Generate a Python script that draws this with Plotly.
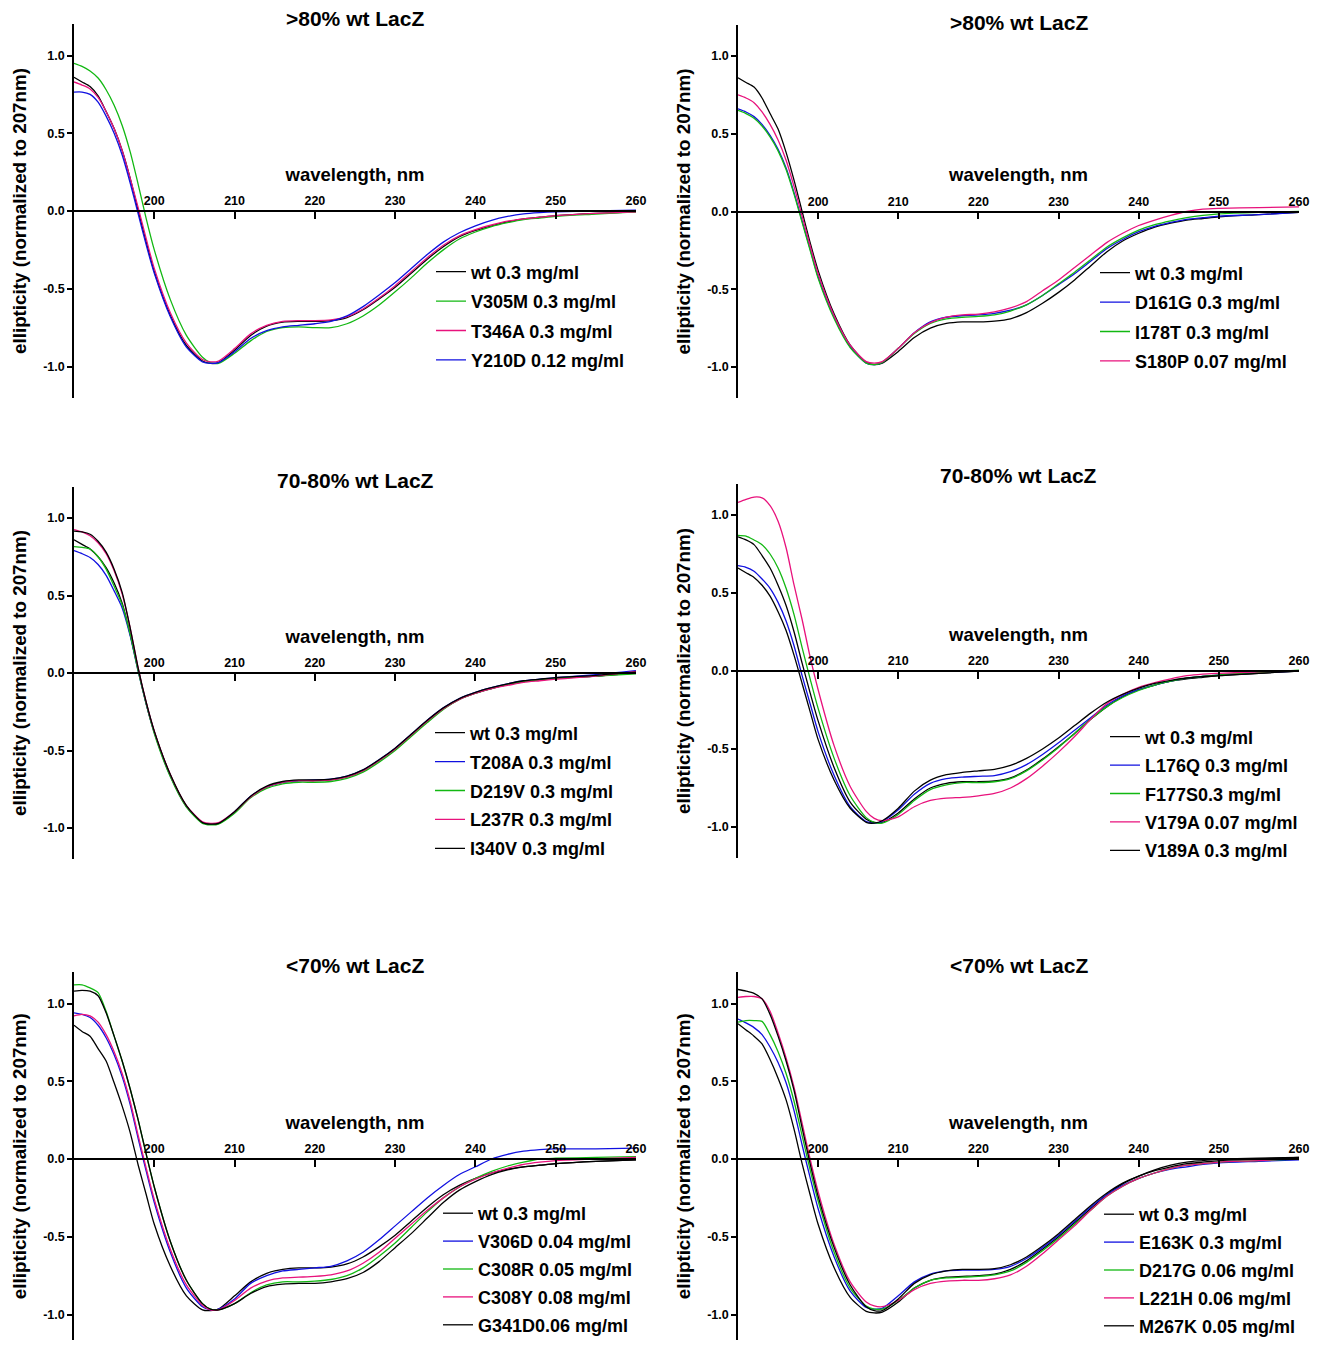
import plotly.graph_objects as go

# ---------------- data ----------------
wavelength = [190,191,192,193,194,195,196,197,198,199,200,202,204,206,207,208,
              210,212,214,216,218,220,222,224,226,228,230,232,234,236,238,240,242,244,246,248,
              250,255,260]

# Panel A: >80% wt LacZ (left)
A_wt    = [0.86,0.83,0.80,0.74,0.64,0.53,0.39,0.21,0.0,-0.2,-0.39, -0.67,-0.865,-0.965, -0.98,-0.975,
           -0.895,-0.80,-0.74,-0.715,-0.71,-0.71,-0.705,-0.685,-0.635,-0.565,-0.49,-0.40,-0.31,-0.23,-0.165,-0.125,-0.095,-0.07,-0.05,-0.04,
           -0.03,-0.015,-0.005]
A_V305M = [0.95,0.93,0.90,0.855,0.78,0.68,0.55,0.38,0.17,-0.05,-0.25, -0.57,-0.80,-0.94, -0.975,-0.98,
           -0.915,-0.835,-0.775,-0.75,-0.745,-0.75,-0.75,-0.725,-0.675,-0.605,-0.52,-0.43,-0.335,-0.25,-0.18,-0.135,-0.10,-0.075,-0.055,-0.045,
           -0.035,-0.02,-0.005]
A_T346A = [0.83,0.81,0.785,0.73,0.64,0.53,0.39,0.21,0.02,-0.18,-0.37, -0.655,-0.85,-0.955, -0.97,-0.965,
           -0.885,-0.79,-0.735,-0.71,-0.705,-0.705,-0.70,-0.68,-0.63,-0.56,-0.48,-0.39,-0.30,-0.22,-0.16,-0.12,-0.09,-0.065,-0.05,-0.04,
           -0.03,-0.015,-0.005]
A_Y210D = [0.765,0.765,0.75,0.70,0.61,0.50,0.36,0.18,-0.02,-0.22,-0.40, -0.68,-0.875,-0.97, -0.98,-0.975,
           -0.905,-0.82,-0.77,-0.745,-0.735,-0.725,-0.71,-0.675,-0.615,-0.54,-0.46,-0.37,-0.28,-0.20,-0.14,-0.095,-0.06,-0.035,-0.018,-0.01,
           -0.005,0.0,0.005]

# Panel B: >80% wt LacZ (right)
B_wt    = [0.86,0.83,0.80,0.73,0.63,0.53,0.38,0.20,0.0,-0.2,-0.38, -0.66,-0.86,-0.97, -0.985,-0.975,
           -0.90,-0.81,-0.75,-0.72,-0.71,-0.71,-0.705,-0.69,-0.65,-0.59,-0.52,-0.44,-0.35,-0.26,-0.19,-0.14,-0.10,-0.075,-0.055,-0.045,
           -0.035,-0.02,-0.005]
B_D161G = [0.66,0.64,0.61,0.56,0.49,0.40,0.28,0.12,-0.06,-0.24,-0.42, -0.68,-0.87,-0.975, -0.985,-0.97,
           -0.88,-0.78,-0.71,-0.68,-0.67,-0.665,-0.655,-0.635,-0.60,-0.54,-0.47,-0.40,-0.32,-0.24,-0.18,-0.13,-0.095,-0.07,-0.05,-0.04,
           -0.03,-0.02,-0.005]
B_I178T = [0.65,0.63,0.60,0.55,0.48,0.39,0.27,0.11,-0.07,-0.25,-0.43, -0.69,-0.875,-0.975, -0.985,-0.97,
           -0.88,-0.785,-0.72,-0.69,-0.68,-0.675,-0.665,-0.64,-0.60,-0.54,-0.465,-0.39,-0.31,-0.23,-0.17,-0.12,-0.085,-0.06,-0.04,-0.025,
           -0.015,-0.005,0.0]
B_S180P = [0.75,0.73,0.70,0.64,0.56,0.46,0.33,0.16,-0.03,-0.22,-0.40, -0.67,-0.86,-0.965, -0.975,-0.965,
           -0.88,-0.78,-0.715,-0.68,-0.665,-0.66,-0.645,-0.62,-0.58,-0.51,-0.44,-0.36,-0.28,-0.20,-0.14,-0.09,-0.055,-0.025,0.0,0.015,
           0.02,0.025,0.03]

# Panel C: 70-80% wt LacZ (left)
C_wt    = [0.86,0.83,0.80,0.75,0.68,0.58,0.45,0.25,0.02,-0.2,-0.38, -0.66,-0.86,-0.965, -0.975,-0.97,
           -0.90,-0.80,-0.735,-0.705,-0.695,-0.695,-0.69,-0.67,-0.63,-0.565,-0.49,-0.40,-0.31,-0.23,-0.17,-0.13,-0.10,-0.075,-0.055,-0.045,
           -0.035,-0.02,0.0]
C_T208A = [0.79,0.77,0.745,0.70,0.63,0.53,0.42,0.24,0.01,-0.2,-0.385, -0.665,-0.86,-0.965, -0.975,-0.97,
           -0.895,-0.795,-0.735,-0.705,-0.695,-0.69,-0.685,-0.665,-0.625,-0.56,-0.485,-0.395,-0.305,-0.225,-0.165,-0.125,-0.095,-0.07,-0.05,-0.04,
           -0.03,-0.01,0.015]
C_D219V = [0.815,0.81,0.80,0.75,0.67,0.56,0.44,0.25,0.01,-0.2,-0.39, -0.67,-0.865,-0.97, -0.98,-0.975,
           -0.905,-0.805,-0.745,-0.715,-0.705,-0.705,-0.70,-0.68,-0.64,-0.575,-0.50,-0.41,-0.32,-0.235,-0.17,-0.13,-0.10,-0.075,-0.055,-0.045,
           -0.035,-0.02,-0.005]
C_L237R = [0.925,0.91,0.885,0.84,0.77,0.66,0.51,0.29,0.03,-0.19,-0.375, -0.655,-0.855,-0.96, -0.97,-0.965,
           -0.895,-0.80,-0.735,-0.705,-0.695,-0.695,-0.69,-0.67,-0.63,-0.565,-0.49,-0.40,-0.31,-0.23,-0.17,-0.13,-0.10,-0.08,-0.06,-0.05,
           -0.04,-0.02,0.01]
C_I340V = [0.915,0.91,0.895,0.85,0.78,0.67,0.52,0.29,0.03,-0.19,-0.375, -0.655,-0.855,-0.965, -0.975,-0.97,
           -0.895,-0.795,-0.73,-0.70,-0.69,-0.69,-0.685,-0.665,-0.625,-0.56,-0.485,-0.395,-0.305,-0.225,-0.165,-0.125,-0.095,-0.07,-0.05,-0.04,
           -0.03,-0.015,0.005]

# Panel D: 70-80% wt LacZ (right)
D_wt    = [0.86,0.84,0.81,0.74,0.66,0.55,0.42,0.25,0.05,-0.14,-0.32, -0.62,-0.84,-0.95, -0.97,-0.97,
           -0.91,-0.82,-0.75,-0.72,-0.71,-0.71,-0.705,-0.685,-0.635,-0.565,-0.485,-0.40,-0.31,-0.23,-0.165,-0.12,-0.09,-0.065,-0.05,-0.04,
           -0.03,-0.015,0.0]
D_L176Q = [0.675,0.665,0.64,0.59,0.53,0.44,0.32,0.16,-0.03,-0.21,-0.39, -0.67,-0.87,-0.965, -0.975,-0.965,
           -0.89,-0.79,-0.72,-0.69,-0.68,-0.675,-0.67,-0.645,-0.60,-0.535,-0.46,-0.38,-0.30,-0.22,-0.16,-0.12,-0.09,-0.065,-0.045,-0.035,
           -0.025,-0.01,0.0]
D_F177S = [0.87,0.865,0.84,0.81,0.75,0.66,0.53,0.36,0.15,-0.05,-0.24, -0.56,-0.80,-0.94, -0.97,-0.975,
           -0.92,-0.83,-0.76,-0.73,-0.715,-0.715,-0.71,-0.69,-0.64,-0.57,-0.49,-0.40,-0.31,-0.23,-0.17,-0.125,-0.09,-0.065,-0.045,-0.035,
           -0.025,-0.01,0.005]
D_V179A = [1.08,1.10,1.115,1.11,1.06,0.96,0.79,0.55,0.33,0.09,-0.12, -0.48,-0.74,-0.90, -0.945,-0.96,
           -0.935,-0.87,-0.83,-0.815,-0.81,-0.80,-0.785,-0.75,-0.69,-0.61,-0.52,-0.42,-0.31,-0.21,-0.15,-0.105,-0.075,-0.05,-0.03,-0.02,
           -0.015,-0.005,0.0]
D_V189A = [0.66,0.63,0.60,0.55,0.48,0.38,0.26,0.10,-0.08,-0.26,-0.44, -0.70,-0.88,-0.97, -0.975,-0.96,
           -0.88,-0.77,-0.70,-0.665,-0.65,-0.64,-0.63,-0.605,-0.56,-0.50,-0.43,-0.35,-0.27,-0.20,-0.15,-0.11,-0.08,-0.06,-0.045,-0.035,
           -0.03,-0.015,0.0]

# Panel E: <70% wt LacZ (left)
E_wt    = [0.86,0.82,0.79,0.71,0.63,0.49,0.34,0.17,-0.04,-0.23,-0.42, -0.69,-0.88,-0.97, -0.975,-0.965,
           -0.88,-0.79,-0.735,-0.71,-0.70,-0.70,-0.695,-0.675,-0.63,-0.565,-0.49,-0.40,-0.31,-0.23,-0.17,-0.125,-0.09,-0.065,-0.05,-0.04,
           -0.03,-0.015,-0.005]
E_V306D = [0.94,0.93,0.91,0.86,0.78,0.67,0.53,0.35,0.13,-0.08,-0.28, -0.60,-0.83,-0.95, -0.97,-0.965,
           -0.90,-0.80,-0.75,-0.72,-0.71,-0.70,-0.69,-0.655,-0.60,-0.52,-0.43,-0.34,-0.25,-0.17,-0.10,-0.05,0.0,0.03,0.05,0.06,
           0.065,0.065,0.07]
E_C308R = [1.12,1.12,1.10,1.07,0.95,0.79,0.63,0.45,0.25,0.03,-0.18, -0.53,-0.78,-0.93, -0.965,-0.97,
           -0.93,-0.86,-0.81,-0.79,-0.79,-0.785,-0.775,-0.75,-0.70,-0.625,-0.54,-0.44,-0.34,-0.25,-0.18,-0.125,-0.08,-0.045,-0.02,0.0,
           0.005,0.01,0.015]
E_C308Y = [0.92,0.93,0.92,0.88,0.80,0.69,0.55,0.37,0.15,-0.06,-0.26, -0.58,-0.81,-0.94, -0.97,-0.97,
           -0.91,-0.83,-0.785,-0.765,-0.76,-0.755,-0.745,-0.72,-0.67,-0.60,-0.51,-0.42,-0.33,-0.25,-0.18,-0.13,-0.09,-0.06,-0.035,-0.02,
           -0.01,0.0,0.01]
E_G341D = [1.08,1.085,1.08,1.05,0.94,0.79,0.63,0.45,0.25,0.03,-0.18, -0.53,-0.78,-0.93, -0.965,-0.97,
           -0.93,-0.865,-0.82,-0.805,-0.80,-0.80,-0.79,-0.77,-0.73,-0.66,-0.57,-0.48,-0.38,-0.28,-0.20,-0.145,-0.10,-0.07,-0.05,-0.04,
           -0.03,-0.015,-0.005]

# Panel F: <70% wt LacZ (right)
F_wt    = [0.87,0.83,0.79,0.74,0.64,0.52,0.38,0.19,-0.03,-0.23,-0.42, -0.70,-0.89,-0.98, -0.99,-0.985,
           -0.92,-0.83,-0.78,-0.76,-0.755,-0.75,-0.74,-0.71,-0.655,-0.58,-0.50,-0.41,-0.32,-0.23,-0.16,-0.11,-0.07,-0.04,-0.02,-0.01,
           0.0,0.005,0.01]
F_E163K = [0.90,0.875,0.845,0.80,0.72,0.62,0.49,0.31,0.09,-0.12,-0.32, -0.63,-0.85,-0.955, -0.965,-0.96,
           -0.88,-0.79,-0.74,-0.72,-0.715,-0.715,-0.71,-0.69,-0.64,-0.57,-0.49,-0.40,-0.31,-0.23,-0.17,-0.125,-0.09,-0.065,-0.05,-0.035,
           -0.025,-0.015,-0.005]
F_D217G = [0.88,0.89,0.89,0.885,0.80,0.69,0.55,0.37,0.15,-0.07,-0.27, -0.60,-0.83,-0.945, -0.965,-0.965,
           -0.91,-0.83,-0.78,-0.765,-0.76,-0.755,-0.745,-0.72,-0.665,-0.59,-0.51,-0.42,-0.33,-0.24,-0.175,-0.125,-0.09,-0.06,-0.04,-0.03,
           -0.02,-0.01,0.0]
F_L221H = [1.04,1.045,1.045,1.03,0.95,0.81,0.65,0.46,0.23,0.0,-0.21, -0.55,-0.79,-0.92, -0.945,-0.95,
           -0.91,-0.84,-0.80,-0.785,-0.78,-0.78,-0.77,-0.745,-0.69,-0.61,-0.52,-0.43,-0.33,-0.24,-0.175,-0.125,-0.09,-0.06,-0.04,-0.03,
           -0.02,-0.01,0.005]
F_M267K = [1.09,1.08,1.065,1.03,0.93,0.79,0.63,0.44,0.20,-0.03,-0.24, -0.57,-0.81,-0.95, -0.975,-0.975,
           -0.90,-0.80,-0.745,-0.72,-0.71,-0.71,-0.705,-0.68,-0.63,-0.56,-0.48,-0.39,-0.30,-0.22,-0.155,-0.11,-0.075,-0.05,-0.03,-0.02,
           -0.01,0.0,0.01]

panel_titles = [">80% wt LacZ", ">80% wt LacZ", "70-80% wt LacZ", "70-80% wt LacZ", "<70% wt LacZ", "<70% wt LacZ"]
x_ticks = [200, 210, 220, 230, 240, 250, 260]
y_ticks = [-1.0, -0.5, 0.0, 0.5, 1.0]
y_ticktext = ["-1.0", "-0.5", "0.0", "0.5", "1.0"]

BLACK, GREEN, PINK, BLUE = "#000000", "#12b812", "#e8127c", "#1010e0"

panels = [
    [("wt 0.3 mg/ml", A_wt, BLACK), ("V305M 0.3 mg/ml", A_V305M, GREEN),
     ("T346A 0.3 mg/ml", A_T346A, PINK), ("Y210D 0.12 mg/ml", A_Y210D, BLUE)],
    [("wt 0.3 mg/ml", B_wt, BLACK), ("D161G 0.3 mg/ml", B_D161G, BLUE),
     ("I178T 0.3 mg/ml", B_I178T, GREEN), ("S180P 0.07 mg/ml", B_S180P, PINK)],
    [("wt 0.3 mg/ml", C_wt, BLACK), ("T208A 0.3 mg/ml", C_T208A, BLUE),
     ("D219V 0.3 mg/ml", C_D219V, GREEN), ("L237R 0.3 mg/ml", C_L237R, PINK),
     ("I340V 0.3 mg/ml", C_I340V, BLACK)],
    [("wt 0.3 mg/ml", D_wt, BLACK), ("L176Q 0.3 mg/ml", D_L176Q, BLUE),
     ("F177S0.3 mg/ml", D_F177S, GREEN), ("V179A 0.07 mg/ml", D_V179A, PINK),
     ("V189A 0.3 mg/ml", D_V189A, BLACK)],
    [("wt 0.3 mg/ml", E_wt, BLACK), ("V306D 0.04 mg/ml", E_V306D, BLUE),
     ("C308R 0.05 mg/ml", E_C308R, GREEN), ("C308Y 0.08 mg/ml", E_C308Y, PINK),
     ("G341D0.06 mg/ml", E_G341D, BLACK)],
    [("wt 0.3 mg/ml", F_wt, BLACK), ("E163K 0.3 mg/ml", F_E163K, BLUE),
     ("D217G 0.06 mg/ml", F_D217G, GREEN), ("L221H 0.06 mg/ml", F_L221H, PINK),
     ("M267K 0.05 mg/ml", F_M267K, BLACK)],
]

# ---------------- layout geometry (page pixels -> paper) ----------------
PAGE_W, PAGE_H = 1327, 1348
BODY = 8                      # default html body margin
W, H = PAGE_W - 2 * BODY, PAGE_H - 2 * BODY


def px2x(px):
    return (px - BODY) / W


def px2y(py):
    return 1 - (py - BODY) / H


xdom_px = [(74, 636), (738, 1299)]
zero_px = [211, 211.5, 673, 671, 1159, 1159]
unit_px = [155.5, 155.5, 155, 156, 155.5, 155.5]
title_px = [19, 22, 480, 476, 965, 965]
legend_px = [(431, 253.5), (1095, 254.5), (430, 714.5), (1105, 718.5), (438, 1195), (1099, 1196)]
legend_gap = [3, 3, 2.5, 2, 1.5, 1.5]

FONT = "Liberation Sans, Arial, Helvetica, sans-serif"

fig = go.Figure()
layout = dict(
    width=W, height=H, margin=dict(l=0, r=0, t=0, b=0, pad=0, autoexpand=False),
    paper_bgcolor="white", plot_bgcolor="white", showlegend=True,
    font=dict(family=FONT, color="black"),
)
annotations = []

for i, series in enumerate(panels):
    k = i + 1
    col = i % 2
    x0, x1 = xdom_px[col]
    z, u = zero_px[i], unit_px[i]
    top_px = z - 1.2 * u
    bot_px = min(z + 1.2 * u, PAGE_H - BODY)
    ymin = -(bot_px - z) / u
    xd = [px2x(x0), px2x(x1)]
    yd = [px2y(bot_px), px2y(top_px)]
    xa = "xaxis" if k == 1 else f"xaxis{k}"
    ya = "yaxis" if k == 1 else f"yaxis{k}"
    xref = "x" if k == 1 else f"x{k}"
    yref = "y" if k == 1 else f"y{k}"
    lg = "legend" if k == 1 else f"legend{k}"

    for j, (name, vals, color) in enumerate(series):
        fig.add_trace(go.Scatter(
            x=wavelength, y=vals, mode="lines", name=name,
            line=dict(color=color, width=1.3, shape="spline", smoothing=0.7),
            xaxis=xref, yaxis=yref, legend=lg, legendgroup=f"p{k}_{j}",
            hoverinfo="skip",
        ))

    layout[xa] = dict(
        domain=xd, range=[190, 260], anchor="free", position=px2y(z),
        side="top", ticks="inside", ticklen=7, tickwidth=1.5, tickcolor="black",
        showline=True, linecolor="black", linewidth=1.5, showgrid=False, zeroline=False,
        tickvals=x_ticks, tickfont=dict(size=12.5, family=FONT, weight="bold"),
        title=dict(text="wavelength, nm", font=dict(size=18.5, family=FONT, weight="bold"), standoff=7),
        automargin=False, fixedrange=True,
    )
    layout[ya] = dict(
        domain=yd, range=[ymin, 1.2], anchor=xref,
        ticks="outside", ticklen=5, tickwidth=1.5, tickcolor="black",
        showline=True, linecolor="black", linewidth=1.5, showgrid=False, zeroline=False,
        tickvals=y_ticks, ticktext=y_ticktext, tickfont=dict(size=12.5, family=FONT, weight="bold"),
        title=dict(text="ellipticity (normalized to 207nm)", font=dict(size=18.8, family=FONT, weight="bold"), standoff=12),
        automargin=False, fixedrange=True,
    )
    lx, ly = legend_px[i]
    layout[lg] = dict(
        x=px2x(lx), y=px2y(ly), xanchor="left", yanchor="top",
        bgcolor="rgba(0,0,0,0)", borderwidth=0, traceorder="grouped", tracegroupgap=legend_gap[i],
        font=dict(size=18, family=FONT, weight="bold", color="black"),
    )
    annotations.append(dict(
        text=panel_titles[i], xref="paper", yref="paper",
        x=(xd[0] + xd[1]) / 2, y=px2y(title_px[i]), xanchor="center", yanchor="middle",
        showarrow=False, font=dict(size=21, family=FONT, weight="bold", color="black"),
    ))

layout["annotations"] = annotations
fig.update_layout(**layout)
fig.write_html("out.html")
